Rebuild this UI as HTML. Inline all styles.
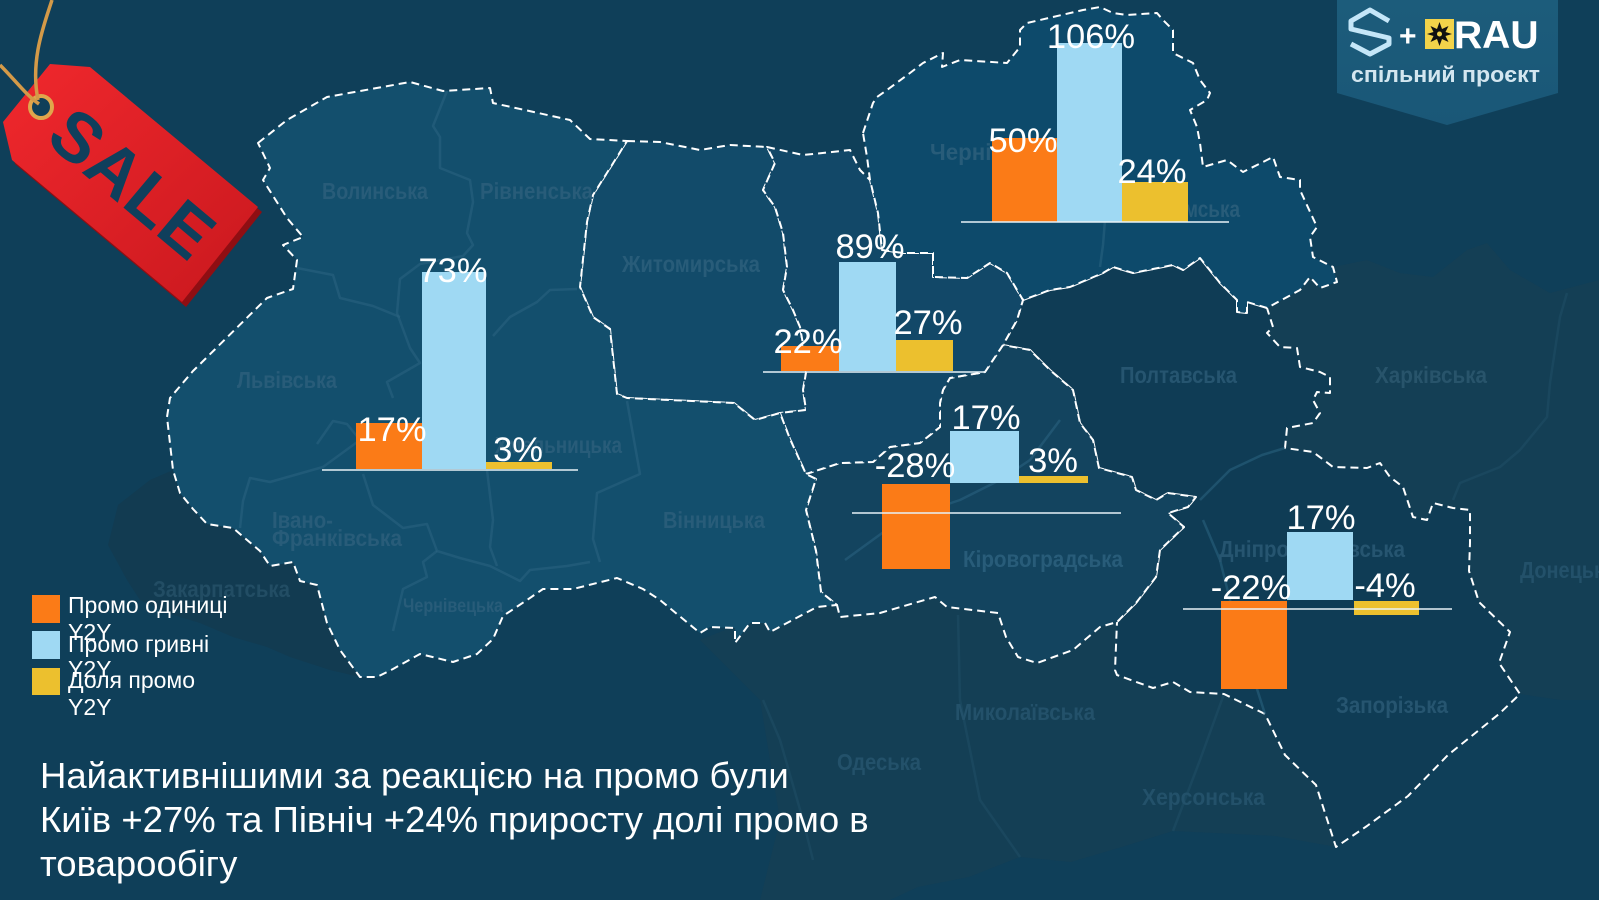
<!DOCTYPE html>
<html><head><meta charset="utf-8">
<style>
html,body{margin:0;padding:0;background:#0f3f59;}
svg{display:block;}
text{font-family:"Liberation Sans","Noto Sans CJK SC",sans-serif;}
.rn{font-family:"Liberation Sans Narrow","Liberation Sans",sans-serif;font-weight:bold;fill:#285c79;font-size:23px;}
.v{fill:#ffffff;font-size:34.5px;text-anchor:middle;}
.dash{fill-opacity:1;stroke:#ffffff;stroke-width:2;stroke-dasharray:8 5;stroke-linejoin:round;}
.ln{fill:none;stroke:#2b6482;stroke-width:2.5;opacity:0.55;stroke-linejoin:round;}
.ln2{fill:none;stroke:#1d4b63;stroke-width:2.5;opacity:0.7;stroke-linejoin:round;}
</style></head>
<body>
<svg width="1599" height="900" viewBox="0 0 1599 900" xmlns="http://www.w3.org/2000/svg">
<defs>
<linearGradient id="tag" x1="0" y1="0" x2="1" y2="1">
<stop offset="0" stop-color="#f0282d"/><stop offset="1" stop-color="#c9181e"/>
</linearGradient>
<linearGradient id="logo" x1="0" y1="0" x2="0" y2="1">
<stop offset="0" stop-color="#1c5c7b"/><stop offset="1" stop-color="#1a5777"/>
</linearGradient>
</defs>
<rect width="1599" height="900" fill="#0f3f59"/>

<polygon fill="#143f55" points="1000,280 1333,267 1367,260 1400,273 1433,277 1467,250 1487,243 1510,270 1550,293 1599,280 1599,700 1560,700 1520,694 1499,714 1448,755 1408,796 1367,826 1336,847 1275,836 1173,831 1122,847 1071,862 1020,857 969,877 918,887 890,900 760,900 780,820 770,760 760,700 700,640 800,600"/>
<path class="ln2" d="M1567,293 L1560,317 L1550,383 L1547,417 L1520,450 L1500,467 L1460,483 L1453,500"/>
<path class="ln2" d="M763,700 L780,740 L803,820 L813,860"/>
<path class="ln2" d="M958,615 L960,700 L980,800 L1020,857"/>
<path class="ln2" d="M1224,694 L1200,760 L1173,831"/>

<polygon fill="#123b51" points="173,470 180,493 193,509 207,524 233,528 260,551 270,566 293,562 300,581 317,585 327,623 340,650 360,677 330,670 290,657 267,647 233,637 200,623 167,613 140,600 127,580 108,545 118,505 150,480"/>

<polygon class="dash" fill="#0f3c55" points="1023,300 1050,290 1070,287 1103,273 1113,267 1133,273 1173,265 1183,270 1200,258 1220,283 1237,300 1237,312 1247,313 1247,302 1267,308 1273,327 1267,333 1280,347 1297,348 1300,367 1320,372 1330,377 1330,393 1317,392 1313,400 1320,413 1313,423 1287,428 1285,448 1313,452 1333,467 1367,468 1380,463 1390,477 1403,487 1413,517 1427,520 1433,503 1453,508 1470,510 1470,543 1469,571 1479,602 1510,632 1499,663 1520,694 1499,714 1448,755 1408,796 1367,826 1336,847 1326,816 1316,785 1285,755 1265,714 1224,694 1190,692 1173,682 1153,688 1117,675 1115,670 1117,622 1136,603 1156,577 1160,550 1184,527 1168,513 1188,507 1196,497 1168,493 1156,500 1136,490 1132,477 1099,468 1093,440 1080,423 1073,390 1050,370 1030,350 1003,345 1017,320"/>
<path class="ln" d="M1200,500 L1230,470 L1262,455 L1285,448"/>
<path class="ln" d="M1203,520 L1220,560 L1235,620 L1265,714"/>

<polygon class="dash" fill="#13445f" points="806,474 840,463 873,462 890,447 920,443 940,427 940,403 943,390 950,378 985,372 1003,345 1030,350 1050,370 1073,390 1080,423 1093,440 1099,468 1132,477 1136,490 1156,500 1168,493 1196,497 1188,507 1168,513 1184,527 1160,550 1156,577 1136,603 1117,622 1100,627 1073,650 1037,663 1018,657 1006,637 998,613 947,607 935,597 880,613 840,617 837,605 821,592 816,551 806,510 816,479"/>
<path class="ln" d="M845,560 L900,520 L960,500 L1000,480 L1030,460 L1060,420"/>

<polygon class="dash" fill="#124b6a" points="627,141 660,142 700,150 730,145 767,147 775,163 763,190 775,207 783,233 787,267 783,290 793,310 800,327 807,367 803,390 806,410 780,413 755,420 734,403 627,398 617,394 610,329 593,317 580,287 587,222 593,195 617,157"/>

<polygon class="dash" fill="#124868" points="767,147 803,155 832,152 850,150 860,170 870,180 878,213 882,250 903,253 933,253 933,277 967,278 990,263 1007,273 1023,300 1017,320 1003,345 985,372 950,378 943,390 940,403 940,427 920,443 890,447 873,462 840,463 806,474 790,439 780,413 806,410 803,390 807,367 800,327 793,310 783,290 787,267 783,233 775,207 763,190 775,163"/>

<polygon class="dash" fill="#0d4a6b" points="863,133 873,103 877,97 887,90 910,73 923,63 943,53 942,67 960,60 1007,63 1020,47 1020,30 1027,23 1083,10 1100,7 1113,13 1127,15 1157,13 1163,20 1173,30 1173,53 1193,63 1200,80 1210,93 1207,100 1190,110 1197,127 1200,143 1203,167 1227,160 1243,172 1273,157 1280,177 1300,180 1300,190 1317,227 1310,237 1313,257 1333,267 1337,282 1320,288 1310,277 1300,290 1267,308 1247,302 1247,313 1237,312 1237,300 1220,283 1200,258 1183,270 1173,265 1133,273 1113,267 1103,273 1070,287 1050,290 1023,300 1007,273 990,263 967,278 933,277 933,253 903,253 882,250 878,213 870,180 867,157"/>
<path class="ln" d="M1105,220 L1103,245 L1100,267"/>

<polygon class="dash" fill="#134f6d" points="258,143 287,120 327,97 410,82 443,91 490,88 493,103 570,120 590,139 627,141 617,157 593,195 587,222 580,287 593,317 610,329 617,394 627,398 734,403 755,420 780,413 790,439 806,474 816,479 806,510 816,551 821,592 837,605 817,607 770,632 765,623 750,623 735,643 735,628 710,627 700,633 660,600 643,589 617,578 573,589 543,589 527,600 503,616 493,639 477,654 453,662 420,654 393,669 377,677 360,677 340,650 327,623 317,585 300,581 293,562 270,566 260,551 233,528 207,524 193,509 180,493 173,470 167,417 170,398 193,371 267,298 293,289 297,260 283,245 303,237 287,218 263,180 270,168"/>
<path class="ln" d="M447,91 L433,126 L440,137 L440,168 L470,180 L473,202 L467,233 L473,245 L463,256 L420,264 L400,279 L397,313 L410,348 L420,363 L387,382 L393,398"/>
<path class="ln" d="M297,268 L333,275 L340,298 L373,306 L400,317"/>
<path class="ln" d="M493,336 L510,317 L537,302 L550,290 L577,289"/>
<path class="ln" d="M317,444 L333,421 L347,424 L360,440 L323,467 L270,482 L250,478 L243,501 L240,528"/>
<path class="ln" d="M363,474 L373,505 L403,528 L427,524 L437,551 L460,558 L490,566 L520,581 L530,570 L567,566 L590,562"/>
<path class="ln" d="M487,470 L493,520 L490,547 L497,566"/>
<path class="ln" d="M627,401 L640,474 L597,493 L593,539 L600,562"/>
<path class="ln" d="M437,551 L423,562 L427,577 L403,589 L393,631"/>

<text class="rn" x="322" y="199" textLength="106" lengthAdjust="spacingAndGlyphs">Волинська</text>
<text class="rn" x="480" y="199" textLength="113" lengthAdjust="spacingAndGlyphs">Рівненська</text>
<text class="rn" x="237" y="388" textLength="100" lengthAdjust="spacingAndGlyphs">Львівська</text>
<text class="rn" x="495" y="453" textLength="127" lengthAdjust="spacingAndGlyphs">Хмельницька</text>
<text class="rn" x="272" y="528" textLength="61" lengthAdjust="spacingAndGlyphs">Івано-</text>
<text class="rn" x="272" y="546" textLength="130" lengthAdjust="spacingAndGlyphs">Франківська</text>
<text class="rn" x="403" y="612" style="font-size:19px" textLength="100" lengthAdjust="spacingAndGlyphs">Чернівецька</text>
<text class="rn" x="153" y="597" style="fill:#224d64" textLength="137" lengthAdjust="spacingAndGlyphs">Закарпатська</text>
<text class="rn" x="622" y="272" textLength="138" lengthAdjust="spacingAndGlyphs">Житомирська</text>
<text class="rn" x="663" y="528" textLength="102" lengthAdjust="spacingAndGlyphs">Вінницька</text>
<text class="rn" x="930" y="160" textLength="140" lengthAdjust="spacingAndGlyphs">Чернігівська</text>
<text class="rn" x="1160" y="217" textLength="80" lengthAdjust="spacingAndGlyphs">Сумська</text>
<text class="rn" x="1120" y="383" style="fill:#265570" textLength="117" lengthAdjust="spacingAndGlyphs">Полтавська</text>
<text class="rn" x="1375" y="383" style="fill:#28546b" textLength="112" lengthAdjust="spacingAndGlyphs">Харківська</text>
<text class="rn" x="963" y="567" textLength="160" lengthAdjust="spacingAndGlyphs">Кіровоградська</text>
<text class="rn" x="1219" y="557" style="fill:#265570" textLength="186" lengthAdjust="spacingAndGlyphs">Дніпропетровська</text>
<text class="rn" x="1336" y="713" style="fill:#265570" textLength="112" lengthAdjust="spacingAndGlyphs">Запорізька</text>
<text class="rn" x="955" y="720" style="fill:#23516a" textLength="140" lengthAdjust="spacingAndGlyphs">Миколаївська</text>
<text class="rn" x="837" y="770" style="fill:#23516a" textLength="84" lengthAdjust="spacingAndGlyphs">Одеська</text>
<text class="rn" x="1142" y="805" style="fill:#23516a" textLength="123" lengthAdjust="spacingAndGlyphs">Херсонська</text>
<text class="rn" x="1520" y="578" style="fill:#23516a" textLength="95" lengthAdjust="spacingAndGlyphs">Донецька</text>

<polygon fill="url(#logo)" points="1337,0 1558,0 1558,93 1447,125 1337,93"/>
<polyline points="1389,21 1370,10 1351,21 1351,29 1389,38 1389,44 1370,54 1351,44" fill="none" stroke="#c4e6f8" stroke-width="5" stroke-linejoin="round"/>
<text x="1399" y="46" fill="#ffffff" font-size="30" font-weight="bold">+</text>
<rect x="1425" y="19" width="29" height="30" fill="#f2d34a"/>
<polygon fill="#111111" points="1439.5,22 1442,29 1448.5,26 1445.5,32 1452,34 1445.5,36 1448.5,42 1442,39 1439.5,46 1437,39 1430.5,42 1433.5,36 1427,34 1433.5,32 1430.5,26 1437,29"/>
<circle cx="1439.5" cy="34" r="2.5" fill="#f2d34a"/>
<text x="1454" y="48" fill="#ffffff" font-size="39" font-weight="bold">RAU</text>
<text x="1351" y="82" fill="#d3e6f0" font-size="22" font-weight="bold" textLength="189" lengthAdjust="spacingAndGlyphs">спільний проєкт</text>

<polygon fill="#8f0e13" points="53,68 93,71 262,212 186,307 15,164 6,126"/>
<polygon fill="url(#tag)" points="50,64 90,67 258,207 182,302 12,160 3,122"/>
<circle cx="41" cy="107" r="11" fill="#0f3f59" stroke="#e0a64c" stroke-width="4"/>
<path d="M52,0 C44,25 30,60 38,100" fill="none" stroke="#d49a48" stroke-width="3.5"/>
<path d="M0,65 C15,80 26,95 39,104" fill="none" stroke="#d49a48" stroke-width="3.5"/>
<text x="133" y="208" transform="rotate(40 133 183)" text-anchor="middle" font-size="70" font-weight="bold" fill="#0f3f5c" letter-spacing="1">SALE</text>

<rect x="356" y="423" width="66" height="46" fill="#fb7b17"/>
<rect x="422" y="272" width="64" height="197" fill="#9fd9f3"/>
<rect x="486" y="462" width="66" height="7" fill="#ecc02e"/>
<line x1="322" y1="470" x2="578" y2="470" stroke="#e8f2f7" stroke-width="1.6"/>
<text class="v" x="392" y="441">17%</text>
<text class="v" x="453" y="282">73%</text>
<text class="v" x="518" y="461">3%</text>

<rect x="992" y="138" width="65" height="84" fill="#fb7b17"/>
<rect x="1057" y="43" width="65" height="179" fill="#9fd9f3"/>
<rect x="1122" y="182" width="66" height="40" fill="#ecc02e"/>
<line x1="961" y1="222" x2="1229" y2="222" stroke="#e8f2f7" stroke-width="1.6"/>
<text class="v" x="1023" y="152">50%</text>
<text class="v" x="1091" y="48">106%</text>
<text class="v" x="1152" y="183">24%</text>

<rect x="781" y="346" width="58" height="25" fill="#fb7b17"/>
<rect x="839" y="262" width="57" height="109" fill="#9fd9f3"/>
<rect x="896" y="340" width="57" height="31" fill="#ecc02e"/>
<line x1="763" y1="372" x2="986" y2="372" stroke="#e8f2f7" stroke-width="1.6"/>
<text class="v" x="808" y="353">22%</text>
<text class="v" x="870" y="258">89%</text>
<text class="v" x="928" y="334">27%</text>

<rect x="882" y="484" width="68" height="85" fill="#fb7b17"/>
<rect x="950" y="431" width="69" height="52" fill="#9fd9f3"/>
<rect x="1019" y="476" width="69" height="7" fill="#ecc02e"/>
<line x1="852" y1="513" x2="1121" y2="513" stroke="#e8f2f7" stroke-width="1.6"/>
<text class="v" x="915" y="477">-28%</text>
<text class="v" x="986" y="429">17%</text>
<text class="v" x="1053" y="472">3%</text>

<rect x="1221" y="601" width="66" height="88" fill="#fb7b17"/>
<rect x="1287" y="532" width="66" height="68" fill="#9fd9f3"/>
<rect x="1354" y="601" width="65" height="14" fill="#ecc02e"/>
<line x1="1183" y1="609" x2="1452" y2="609" stroke="#e8f2f7" stroke-width="1.6"/>
<text class="v" x="1251" y="599">-22%</text>
<text class="v" x="1321" y="529">17%</text>
<text class="v" x="1385" y="597">-4%</text>

<rect x="32" y="595" width="28" height="28" fill="#fb7b17"/>
<rect x="32" y="631" width="28" height="28" fill="#9fd9f3"/>
<rect x="32" y="668" width="28" height="27" fill="#ecc02e"/>
<g fill="#ffffff" font-size="23">
<text x="68" y="613">Промо одиниці</text>
<text x="68" y="640">Y2Y</text>
<text x="68" y="652">Промо гривні</text>
<text x="68" y="677">Y2Y</text>
<text x="68" y="688">Доля промо</text>
<text x="68" y="715">Y2Y</text>
</g>

<g fill="#ffffff" font-size="36.5">
<text x="40" y="788">Найактивнішими за реакцією на промо були</text>
<text x="40" y="832">Київ +27% та Північ +24% приросту долі промо в</text>
<text x="40" y="876">товарообігу</text>
</g>
</svg>
</body></html>
